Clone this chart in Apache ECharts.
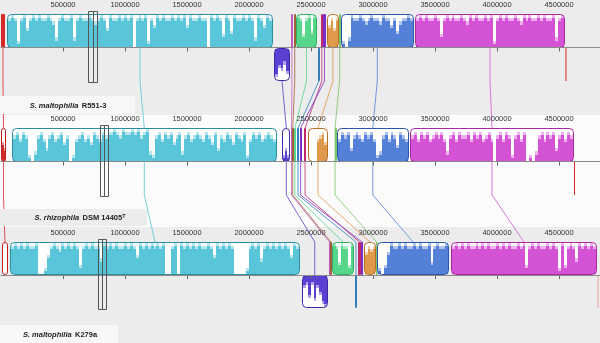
<!DOCTYPE html>
<html>
<head>
<meta charset="utf-8">
<script src="https://cdn.jsdelivr.net/npm/echarts@6/dist/echarts.min.js"></script>
<style>
  html, body { margin: 0; padding: 0; background: #ececec; }
  #main { width: 600px; height: 343px; }
</style>
</head>
<body>
<div id="main"></div>
<script>
// genomes, top to bottom
const species = ['S. maltophilia', 'S. rhizophila', 'S. maltophilia'];
const strains = ['R551-3', 'DSM 14405\u1D40', 'K279a'];
const genomeLengths = [4556000, 4625000, 4815000];
const tickStep = 500000;

// LCB order used in every genome list below
const lcbNames = ['red', 'cyan', 'purple', 'pink', 'brown', 'green', 'blueThin', 'crimson', 'violet', 'orange', 'lime', 'blue', 'magenta'];

// [start bp, end bp, strand]  (-1 = inverted, drawn under the centre line)
const lcbR551 = [
  [0, 32000, 1], [48000, 2194000, 1], [2202000, 2331000, -1], [2336000, 2357000, 1],
  [2361000, 2377000, 1], [2379000, 2548000, 1], [2554000, 2573000, -1], [2578000, 2597000, 1],
  [2599000, 2619000, 1], [2627000, 2726000, 1], [2727000, 2734000, 1], [2738000, 3331000, 1],
  [3339000, 4548000, 1]
];
const lcbRhizo = [
  [0, 40000, 1], [85000, 2226000, 1], [2269000, 2333000, 1], [2339000, 2347000, 1],
  [2349000, 2357000, 1], [2361000, 2379000, 1], [2390000, 2401000, 1], [2444000, 2460000, 1],
  [2411000, 2422000, 1], [2476000, 2637000, 1], [2690000, 2698000, 1], [2707000, 3290000, 1],
  [3298000, 4621000, 1]
];
const lcbK279a = [
  [8000, 56000, 1], [73000, 2411000, 1], [2425000, 2635000, -1], [2645000, 2653000, 1],
  [2656000, 2664000, 1], [2667000, 2849000, 1], [2855000, 2871000, -1], [2881000, 2901000, 1],
  [2901000, 2922000, 1], [2927000, 3024000, 1], [3026000, 3032000, 1], [3034000, 3613000, 1],
  [3629000, 4806000, 1]
];

// similarity profiles, 0..10, left to right inside each block
const cyanR551 = [8,9,8,1,8,9,5,8,9,8, 9,8,8,9,8,7,2,8,9,8, 8,9,2,8,9,8,8,9,8,7, 8,9,8,5,9,8,8,9,8,9,
  8,9,0,8,9,8,9,1,8,6, 9,8,9,8,8,9,8,9,8,9, 6,9,8,8,9,8,8,0,9,8, 9,8,3,9,8,4,9,8,8,9, 8,9,8,2,9,8,6,9,8];
const cyanRhizo = [7,8,6,8,7,1,0,2,7,8, 6,3,7,8,6,7,8,5,7,0, 1,6,7,8,6,7,5,8,7,6, 8,7,8,8,9,8,7,9,8,8,
  9,8,9,7,8,9,2,1,7,8, 6,8,7,8,5,7,8,2,7,8, 6,7,8,7,6,8,7,5,8,3, 7,6,8,7,5,8,7,6,8,1, 6,8,7,8,6,7,8,7,6];
const cyanK279a = [8,9,8,9,8,9,8,8,9,0, 0,1,5,8,9,8,7,9,8,9, 8,9,8,2,8,9,8,9,8,8, 4,9,8,9,8,9,8,8,9,8,
  9,8,5,9,8,9,8,9,8,9, 8,9,0,0,8,9,0,9,8,9, 8,9,8,9,8,8,9,8,5,9, 8,9,8,9,8,0,0,0,0,1, 8,9,8,9,4,8,9,8,9,8,
  9,8,9,8,5,9,8];
const blueR551 = [1,0,2,9,8,8,9,8,7,8,9,8,8,7,9,8,8,6,8,4,7,8,8,9,8];
const blueRhizo = [6,8,7,8,3,7,8,7,6,8,7,8,6,1,2,7,8,6,8,7,4,8,7,6];
const blueK279a = [1,0,2,6,9,8,8,9,8,9,8,8,9,8,9,8,8,9,3,8,9,8,8,9];
const magentaR551 = [8,9,8,9,8,8,9,8,3,8,9,8,9,8,8,9,8,7,9,8,9,8,8,9,8,9,1,8,9,8,9,8,8,9,8,7,9,8,9,8,8,9,8,9,8,8,9,2,8,9];
const magentaRhizo = [7,8,6,8,7,8,6,7,8,7,8,6,2,7,8,6,8,7,7,8,6,8,7,8,6,7,8,6,0,7,8,6,8,7,1,7,8,6,8,0,1,0,2,7,8,6,8,7,8,3,7,8,6,8,7];
const magentaK279a = [8,9,8,9,8,9,8,8,9,8,9,8,9,8,8,9,8,9,8,9,8,8,9,8,9,2,8,9,8,9,8,8,9,8,9,8,1,9,2,8,9,8,4,9,8,9,8,9,8];
const greenR551 = [9,8,3,8,9,4,9];
const greenK279a = [9,8,3,9,8,8,2,9];
const orangeR551 = [6,8,5,8];
const orangeRhizo = [0,0,0,6,7,8,5];
const orangeK279a = [6,8,7,8];
const purpleR551 = [8,5,6,4,7];
const purpleRhizo = [1,3,1];
const purpleK279a = [3,2,6,2,7,3,5,8,9];
const redRhizo = [5,3];
const redK279a = [0,0];

// highlighted cursor columns [left, middle, right] bp
const cursorR551 = [701000, 738000, 774000];
const cursorRhizo = [798000, 830000, 863000];
const cursorK279a = [780000, 816000, 852000];

const lcbs = [lcbR551, lcbRhizo, lcbK279a];
const cursors = [cursorR551, cursorRhizo, cursorK279a];
const profiles = [
  { cyan: cyanR551, purple: purpleR551, green: greenR551, orange: orangeR551, blue: blueR551, magenta: magentaR551 },
  { red: redRhizo, cyan: cyanRhizo, purple: purpleRhizo, orange: orangeRhizo, blue: blueRhizo, magenta: magentaRhizo },
  { red: redK279a, cyan: cyanK279a, purple: purpleK279a, green: greenK279a, orange: orangeK279a, blue: blueK279a, magenta: magentaK279a }
];

const lcbColors = {
  red: { fill: '#d42a2a', edge: '#c01e1e', pale: '#eaa0a0' },
  cyan: { fill: '#58c6d8', edge: '#2a8e9c', pale: '#b4e4ec' },
  purple: { fill: '#5a3fd0', edge: '#3a2aa8', pale: '#b0a4ea' },
  pink: { fill: '#c05cc0', edge: '#c05cc0' },
  brown: { fill: '#a0603a', edge: '#a0603a' },
  green: { fill: '#55d68a', edge: '#2fae62', pale: '#b0ecc8' },
  blueThin: { fill: '#2f7fbf', edge: '#2f7fbf' },
  crimson: { fill: '#c0286a', edge: '#c0286a' },
  violet: { fill: '#7a2ec8', edge: '#7a2ec8' },
  orange: { fill: '#e0994a', edge: '#b56e22', pale: '#f0cfa8' },
  lime: { fill: '#7cc46a', edge: '#7cc46a' },
  blue: { fill: '#5580d8', edge: '#2a55a8', pale: '#b0c4ee' },
  magenta: { fill: '#d452d4', edge: '#a8289e', pale: '#eeb0ee' }
};

const axisMax = 4830645;
const gridTops = [14, 128, 242];
const gridHeights = [67, 67, 66];

const chart = echarts.init(document.getElementById('main'));

const makeRenderer = (t) => (params, api) => {
  const k = api.value(3);
  const strand = api.value(2);
  const name = lcbNames[k];
  const c = lcbColors[name];
  const a = api.coord([api.value(0), strand > 0 ? 1 : 0]);
  const b = api.coord([api.value(1), strand > 0 ? 0 : -1]);
  const x = Math.round(a[0]), y = Math.round(a[1]);
  const w = Math.max(Math.round(b[0]) - x, 2), h = Math.round(b[1]) - y;
  const prof = profiles[t][name];
  if (!prof) {
    return { type: 'rect', shape: { x, y, width: w, height: h, r: 1 }, style: { fill: c.fill } };
  }
  const children = [{ type: 'rect', shape: { x, y, width: w, height: h, r: 4 }, style: { fill: '#fff' } }];
  const bw = (w - 2) / prof.length;
  const inner = h - 2;
  prof.forEach((v, i) => {
    const x0 = Math.round(x + 1 + i * bw), x1 = Math.round(x + 1 + (i + 1) * bw);
    const ph = Math.round(inner * Math.min(10, v + 1) / 10);
    const bh = Math.round(inner * v / 10);
    if (v > 0) {
      children.push({
        type: 'rect',
        shape: { x: x0, y: strand > 0 ? y + 1 + inner - ph : y + 1, width: x1 - x0, height: ph },
        style: { fill: c.pale }
      });
    }
    if (bh > 0) {
      children.push({
        type: 'rect',
        shape: { x: x0, y: strand > 0 ? y + 1 + inner - bh : y + 1, width: x1 - x0, height: bh },
        style: { fill: c.fill }
      });
    }
  });
  children.push({
    type: 'rect',
    shape: { x: x + 0.5, y: y + 0.5, width: w - 1, height: h - 1, r: 4 },
    style: { fill: 'none', stroke: c.edge, lineWidth: 1 }
  });
  return { type: 'group', children };
};

const grids = [], xAxes = [], yAxes = [], series = [];
for (let t = 0; t < 3; t++) {
  grids.push({ left: 1, right: 0, top: gridTops[t], height: gridHeights[t] });
  xAxes.push({
    type: 'value', gridIndex: t, min: 0, max: axisMax, interval: tickStep,
    position: 'top', offset: 14, z: 3,
    axisLine: { lineStyle: { color: '#8a8a8a', width: 1 } },
    axisTick: { inside: true, length: 4, lineStyle: { color: '#666' } },
    axisLabel: {
      inside: true, margin: 1, fontSize: 7.5, color: '#333', fontFamily: 'Liberation Sans',
      showMinLabel: false, showMaxLabel: false,
      formatter: v => (v > 0 && v % tickStep === 0) ? String(v) : ''
    },
    splitLine: { show: false }
  });
  yAxes.push({ type: 'value', gridIndex: t, min: -1, max: 1, show: false });
  series.push({
    type: 'custom', xAxisIndex: t, yAxisIndex: t, clip: false, silent: true,
    renderItem: makeRenderer(t),
    encode: { x: [0, 1], y: 2 },
    data: lcbs[t].map((b, k) => [b[0], b[1], b[2], k]),
    markLine: {
      silent: true, symbol: 'none', label: { show: false },
      lineStyle: { color: '#8a8a8a', type: 'solid', width: 1 },
      data: [{ yAxis: 0 }]
    }
  });
}

chart.setOption({
  animation: false,
  grid: grids,
  xAxis: xAxes,
  yAxis: yAxes,
  series
});

const px = (t, bp, v) => chart.convertToPixel({ gridIndex: t }, [bp, v]);
const centre = (b) => (b[0] + b[1]) / 2;

const elements = [];
// panel backgrounds
elements.push({ type: 'rect', z: 0, shape: { x: 0, y: 115, width: 600, height: 112 }, style: { fill: '#fbfbfb' } });

// connecting lines between neighbouring genomes
for (let t = 0; t < 2; t++) {
  lcbNames.forEach((name, k) => {
    const xa = centre(lcbs[t][k]), xb = centre(lcbs[t + 1][k]);
    const pts = [px(t, xa, 0), px(t, xa, -1), px(t + 1, xb, 1), px(t + 1, xb, 0)];
    elements.push({
      type: 'polyline', z: 1, silent: true,
      shape: { points: pts },
      style: { stroke: lcbColors[name].fill, lineWidth: 1, fill: null, opacity: 0.8 }
    });
  });
}
// red ends at the far right of each genome
genomeLengths.forEach((len, t) => {
  const p = px(t, len, 0), q = px(t, len, -1);
  elements.push({
    type: 'line', z: 1, shape: { x1: p[0], y1: p[1], x2: q[0], y2: q[1] },
    style: { stroke: t === 2 ? '#eaa0a8' : '#d42a2a', lineWidth: 1 }
  });
});

// label boxes
const labelBoxes = [
  { x: 0, y: 96, w: 135, h: 18, fill: '#f7f7f7', cx: 68 },
  { x: 0, y: 209, w: 147, h: 17, fill: '#ececec', cx: 80 },
  { x: 0, y: 325, w: 118, h: 18, fill: '#f7f7f7', cx: 60 }
];
labelBoxes.forEach((lb, t) => {
  elements.push({ type: 'rect', z: 10, shape: { x: lb.x, y: lb.y, width: lb.w, height: lb.h }, style: { fill: lb.fill } });
  elements.push({
    type: 'text', z: 11, x: lb.cx, y: lb.y + lb.h / 2 + 0.5,
    style: {
      text: '{i|' + species[t] + '} {b|' + strains[t] + '}',
      align: 'center', verticalAlign: 'middle',
      rich: {
        i: { fontStyle: 'italic', fontWeight: 'bold', fontSize: 7.5, fontFamily: 'Liberation Sans', fill: '#222' },
        b: { fontWeight: 'bold', fontSize: 7.5, fontFamily: 'Liberation Sans', fill: '#222' }
      }
    }
  });
});

// cursor columns
cursors.forEach((cur, t) => {
  const top = px(t, cur[0], 1)[1] - 3, bottom = px(t, cur[0], -1)[1] + 1;
  for (let j = 0; j < 2; j++) {
    const x1 = px(t, cur[j], 0)[0], x2 = px(t, cur[j + 1], 0)[0];
    elements.push({
      type: 'rect', z: 12,
      shape: { x: Math.round(x1) + 0.5, y: Math.round(top) + 0.5, width: Math.round(x2 - x1), height: Math.round(bottom - top) },
      style: { fill: null, stroke: '#555', lineWidth: 1 }
    });
  }
});

chart.setOption({ graphic: { elements } });
</script>
</body>
</html>
